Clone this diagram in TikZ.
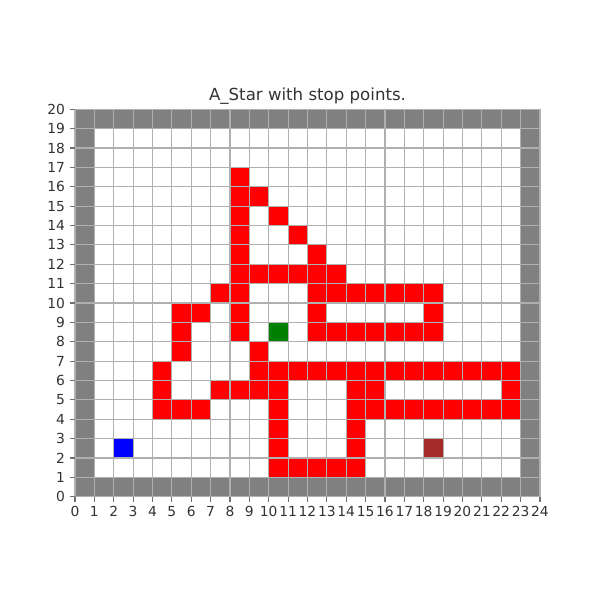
\documentclass[tikz,border=0pt]{standalone}
\usepackage{fontspec}
\setmainfont{DejaVu Sans}
\definecolor{wallc}{HTML}{808080}
\definecolor{gridc}{HTML}{B0B0B0}
\definecolor{pathc}{HTML}{FF0000}
\definecolor{startc}{HTML}{0000FF}
\definecolor{goalc}{HTML}{A52A2A}
\definecolor{stopc}{HTML}{008000}
\definecolor{txtc}{HTML}{333333}
\begin{document}
\begin{tikzpicture}[x=0.19375in,y=0.19375in,
  wallcell/.style={fill=wallc},
  redcell/.style={fill=pathc},
  gridline/.style={draw=gridc,line width=0.8pt},
  tickmark/.style={draw=txtc!70,line width=0.8pt},
  ticklab/.style={inner sep=0pt,text=txtc,font=\fontsize{10}{12}\selectfont}]
\useasboundingbox (-3.871,-5.329) rectangle (27.097,25.639);
\fill[white] (-3.871,-5.329) rectangle (27.097,25.639);
% walls
\foreach \x in {0,...,23} {
  \fill[wallcell] (\x,0) rectangle ++(1,1);
  \fill[wallcell] (\x,19) rectangle ++(1,1);
}
\foreach \y in {1,...,18} {
  \fill[wallcell] (0,\y) rectangle ++(1,1);
  \fill[wallcell] (23,\y) rectangle ++(1,1);
}
% path cells
\foreach \y/\xs in {16/{8},15/{8,9},14/{8,10},13/{8,11},12/{8,12},
  11/{8,9,10,11,12,13},10/{7,8,12,13,14,15,16,17,18},9/{5,6,8,12,18},
  8/{5,8,12,13,14,15,16,17,18},7/{5,9},
  6/{4,9,10,11,12,13,14,15,16,17,18,19,20,21,22},
  5/{4,7,8,9,10,14,15,22},
  4/{4,5,6,10,14,15,16,17,18,19,20,21,22},
  3/{10,14},2/{10,14},1/{10,11,12,13,14}} {
  \foreach \x in \xs { \fill[redcell] (\x,\y) rectangle ++(1,1); }
}
% start, goal, stop point
\fill[startc] (2,2) rectangle ++(1,1);
\fill[goalc] (18,2) rectangle ++(1,1);
\fill[stopc] (10,8) rectangle ++(1,1);
% grid
\foreach \x in {0,...,24} { \draw[gridline] (\x,0) -- (\x,20); }
\foreach \y in {0,...,20} { \draw[gridline] (0,\y) -- (24,\y); }
% ticks and labels
\foreach \x in {0,...,24} {
  \draw[tickmark] (\x,0) -- (\x,-0.25);
  \node[ticklab,anchor=north] at (\x,-0.5) {\x};
}
\foreach \y in {0,...,20} {
  \draw[tickmark] (0,\y) -- (-0.25,\y);
  \node[ticklab,anchor=east] at (-0.5,\y) {\y};
}
% title
\node[anchor=base,inner sep=0pt,text=txtc,font=\fontsize{12}{14}\selectfont] (title) at (12,20.43) {A\_Star with stop points.};
\end{tikzpicture}
\end{document}
